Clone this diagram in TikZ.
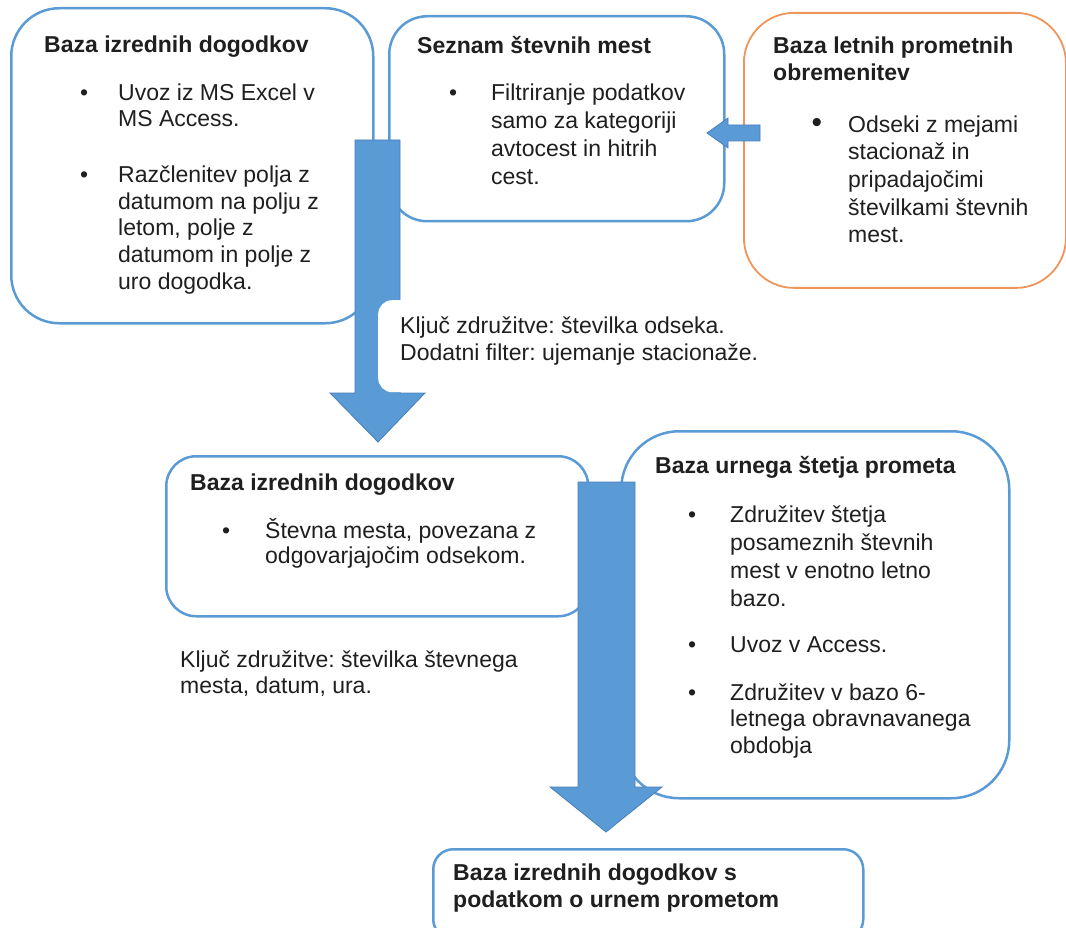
\documentclass[tikz,border=0pt]{standalone}
\usepackage{fontspec}
\setmainfont{Liberation Sans}
\frenchspacing
\usetikzlibrary{positioning}
\definecolor{modra}{HTML}{5B9BD5}
\definecolor{temnomodra}{HTML}{4A7EBB}
\definecolor{oranzna}{HTML}{F0955A}
\newcommand{\opora}{\rule{0pt}{22pt}}
\newcommand{\pika}[1][30]{\opora\llap{\textbullet\hspace{#1pt}}}
\newcommand{\pikaV}[1][30]{\opora\llap{{\fontsize{30}{30}\selectfont\textbullet}\hspace{#1pt}}}
\tikzset{
  okvir/.style={draw=modra, line width=2.5pt, fill=white, rounded corners=#1, anchor=north west, inner sep=0pt},
  okvir/.default=40pt,
  besedilo/.style={anchor=north west, align=left, inner sep=0pt, text=black!88, font=\fontsize{23}{#1}\selectfont, execute at begin node=\opora},
  besedilo/.default=27pt,
  naslov/.style={besedilo=#1, font=\fontsize{23}{#1}\selectfont\bfseries},
  naslov/.default=27pt,
  puscica/.style={fill=modra, draw=temnomodra, line width=0.8pt, line join=miter}
}

\begin{document}
\begin{tikzpicture}[x=1pt, y=-1pt]
    \useasboundingbox (0,0) rectangle (1066,928);
    \clip (0,0) rectangle (1066,928);
    \node[okvir=48pt, minimum width=362pt, minimum height=315pt] (izredni) at (10,7) {};
    \node[okvir=38pt, minimum width=335pt, minimum height=205pt] (seznam) at (388,15) {};
    \node[okvir=50pt, draw=oranzna, line width=1.8pt, minimum width=322pt, minimum height=275pt] (letne) at (743,12) {};
    \draw[puscica] (355,140) -- (400,140) -- (400,393) -- (425,393) -- (378,442) -- (330,393) -- (355,393) -- cycle;
    \draw[puscica] (760,125) -- (728,125) -- (728,118) -- (707,133) -- (728,148) -- (728,141) -- (760,141) -- cycle;
    \node[fill=white, rounded corners=14pt, anchor=north west, minimum width=392pt, minimum height=92pt] (kljucokvir) at (378,300) {};
    \node[okvir=30pt, minimum width=422pt, minimum height=160pt] (povezana) at (165,455) {};
    \node[okvir=58pt, minimum width=388pt, minimum height=367pt] (urni) at (620,430) {};
    \draw[puscica] (578,482) -- (635,482) -- (635,787) -- (662,787) -- (606,832) -- (550,787) -- (578,787) -- cycle;
    \node[okvir=20pt, minimum width=430pt, minimum height=90pt] (koncna) at (432,848) {};

    \node[naslov] (t1) at (44,30) {Baza izrednih dogodkov};
    \node[besedilo=26.3pt] (t1a) at (118,78) {\pika Uvoz iz MS Excel v\\MS Access.};
    \node[besedilo=26.8pt] (t1b) at (118,160) {\pika Razčlenitev polja z\\datumom na polju z\\letom, polje z\\datumom in polje z\\uro dogodka.};

    \node[naslov] (t2) at (417,31) {Seznam števnih mest};
    \node[besedilo=28pt] (t2a) at (491,78) {\pika[34]Filtriranje podatkov\\samo za kategoriji\\avtocest in hitrih\\cest.};

    \node[naslov] (t3) at (773,31) {\opora Baza letnih prometnih\\obremenitev};
    \node[besedilo=27.7pt] (t3a) at (848,110) {\pikaV[26]Odseki z mejami\\stacionaž in\\pripadajočimi\\številkami števnih\\mest.};

    \node[besedilo] (k1) at (400,311) {\opora Ključ združitve: številka odseka.\\Dodatni filter: ujemanje stacionaže.};

    \node[naslov] (t4) at (190,468) {Baza izrednih dogodkov};
    \node[besedilo=25pt] (t4a) at (265,516) {\pika[35]Števna mesta, povezana z\\odgovarjajočim odsekom.};

    \node[naslov] (t5) at (655,451) {Baza urnega štetja prometa};
    \node[besedilo=28pt] (t5a) at (730,500) {\pika[34]Združitev štetja\\posameznih števnih\\mest v enotno letno\\bazo.};
    \node[besedilo] (t5b) at (730,630) {\pika[34]Uvoz v Access.};
    \node[besedilo=26.5pt] (t5c) at (730,678) {\pika[34]Združitev v bazo 6-\\letnega obravnavanega\\obdobja};

    \node[besedilo=26pt] (k2) at (180,645) {\opora Ključ združitve: številka števnega\\mesta, datum, ura.};

    \node[naslov] (t6) at (453,858) {\opora Baza izrednih dogodkov s\\podatkom o urnem prometom};
\end{tikzpicture}
\end{document}
